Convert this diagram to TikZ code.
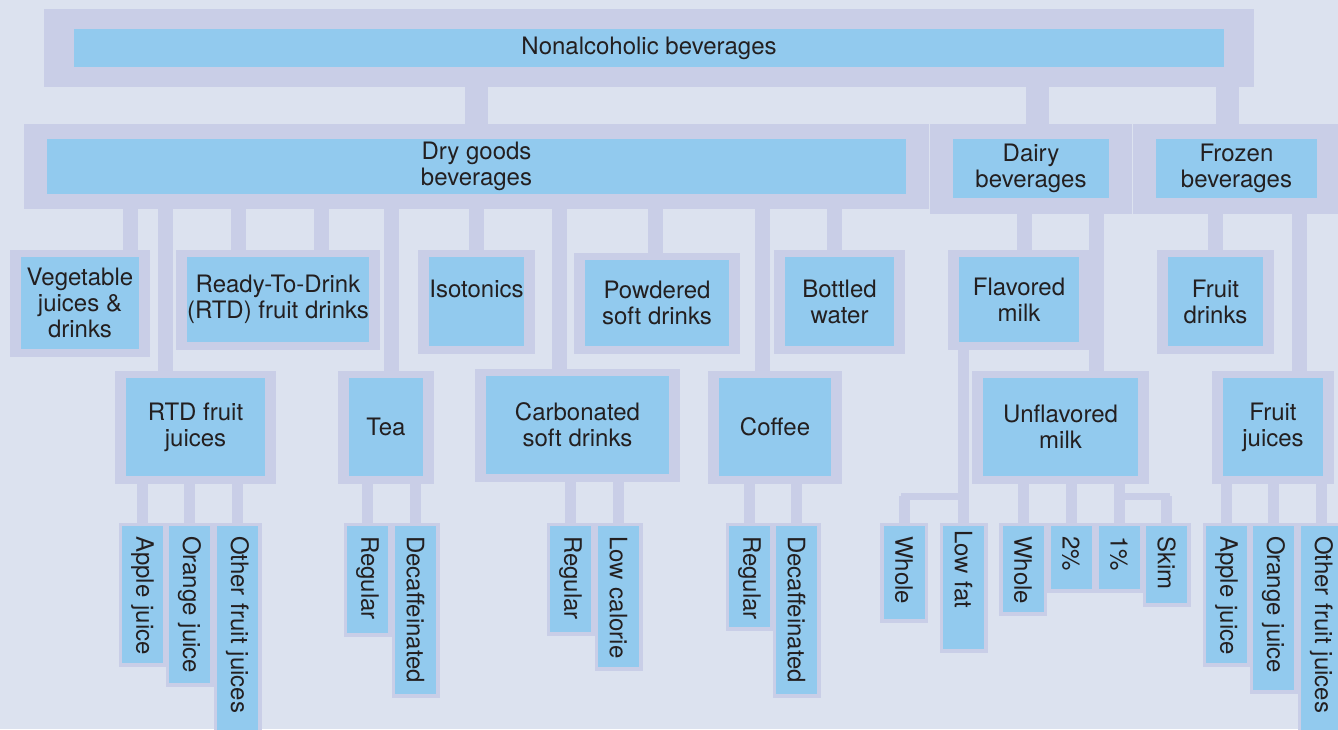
\documentclass[tikz,border=0pt]{standalone}
\usepackage{fontspec}
\setmainfont{TeX Gyre Heros}
\usetikzlibrary{fit}

\definecolor{pagebg}{RGB}{220,226,239}
\definecolor{lavender}{RGB}{201,206,231}
\definecolor{cellblue}{RGB}{146,202,238}
\definecolor{ink}{RGB}{35,31,32}

\pgfdeclarelayer{links}
\pgfsetlayers{links,main}
\hyphenpenalty=10000

\begin{document}
\begin{tikzpicture}[x=1pt, y=-1pt,
  cell/.style={fill=cellblue, text=ink, inner sep=0, outer sep=0, align=center, font=\fontsize{24}{26}\selectfont},
  leaf/.style={cell, rotate=-90, minimum height=41, inner xsep=10, text width=#1pt, align=left},
  frame/.style={fill=lavender, inner sep=0, outer sep=0},
  trunk/.style={draw=lavender, line width=23},
  bar/.style={draw=lavender, line width=15},
  thinbar/.style={draw=lavender, line width=11},
  twig/.style={draw=lavender, line width=7, line cap=rect}
]
\useasboundingbox (0,0) rectangle (1338,729);

% top and first level
\node[cell, minimum width=1150, minimum height=38] (top) at (649,48) {Nonalcoholic beverages};
\node[cell, minimum width=859, minimum height=55] (dry) at (476.5,166.5) {Dry goods\\beverages};
\node[cell, minimum width=156, minimum height=59] (dairy) at (1031,168.5) {Dairy\\beverages};
\node[cell, minimum width=161, minimum height=59] (frozen) at (1236.5,168.5) {Frozen\\beverages};

% second level
\node[cell, minimum width=118, minimum height=92] (veg) at (80,303) {Vegetable\\juices \&\\drinks};
\node[cell, minimum width=178, minimum height=85] (rtdd) at (278,299.5) {Ready-To-Drink\\(RTD) fruit drinks};
\node[cell, minimum width=93, minimum height=89] (iso) at (476.5,301.5) {Isotonics\\ \mbox{}};
\node[cell, minimum width=144, minimum height=86] (powd) at (657,303) {Powdered\\soft drinks};
\node[cell, minimum width=109, minimum height=89] (bottled) at (839.5,301.5) {Bottled\\water};
\node[cell, minimum width=139, minimum height=98] (rtdj) at (195.5,427) {RTD fruit\\juices};
\node[cell, minimum width=74, minimum height=98] (tea) at (386,427) {Tea};
\node[cell, minimum width=183, minimum height=98] (carb) at (577.5,425) {Carbonated\\soft drinks};
\node[cell, minimum width=112, minimum height=98] (coffee) at (775,427) {Coffee};
\node[cell, minimum width=120, minimum height=85] (flav) at (1019,299.5) {Flavored\\milk};
\node[cell, minimum width=155, minimum height=98] (unfl) at (1060.5,427) {Unflavored\\milk};
\node[cell, minimum width=95, minimum height=89] (fdrinks) at (1215.5,301.5) {Fruit\\drinks};
\node[cell, minimum width=100, minimum height=98] (fjuices) at (1273,427) {Fruit\\juices};

% leaves
\node[leaf=117] (apple1) at (142.5,594.5) {Apple~juice};
\node[leaf=137] (orange1) at (189.5,604.5) {Orange~juice};
\node[leaf=194] (other1) at (237.5,633) {Other~fruit~juices};
\node[leaf=87] (teareg) at (367.5,579.5) {Regular};
\node[leaf=148] (teadec) at (415.5,610) {Decaffeinated};
\node[leaf=86] (carbreg) at (570.5,579) {Regular};
\node[leaf=121] (carblow) at (618.5,596.5) {Low~calorie};
\node[leaf=81] (cofreg) at (749.5,576.5) {Regular};
\node[leaf=148] (cofdec) at (796.5,610) {Decaffeinated};
\node[leaf=73] (whole1) at (904,572.5) {Whole};
\node[leaf=115, inner xsep=4] (lowfat) at (963.5,587.5) {Low~fat};
\node[leaf=66] (whole2) at (1023,569) {Whole};
\node[leaf=43] (two) at (1071,557.5) {2\%};
\node[leaf=43] (one) at (1119,557.5) {1\%};
\node[leaf=57] (skim) at (1166.5,564.5) {Skim};
\node[leaf=117] (apple2) at (1226.5,594.5) {Apple~juice};
\node[leaf=144] (orange2) at (1273.5,608) {Orange~juice};
\node[leaf=194] (other2) at (1321.5,633) {Other~fruit~juices};

\begin{pgfonlayer}{links}
  \fill[pagebg] (0,0) rectangle (1338,729);
  % frames
  \node[frame, fit=(top), inner xsep=30, inner ysep=20] (top-f) {};
  \node[frame, fit=(dry), inner xsep=23, inner ysep=15] (dry-f) {};
  \node[frame, fit=(dairy), inner xsep=23, inner ysep=15.5] (dairy-f) {};
  \node[frame, fit=(frozen), inner xsep=23, inner ysep=15.5] (frozen-f) {};
  \foreach \n in {veg, rtdd, iso, powd, bottled, rtdj, tea, carb, coffee, flav, unfl, fdrinks, fjuices}
    \node[frame, fit=(\n), inner xsep=11, inner ysep=7.5] (\n-f) {};
  \foreach \n in {apple1, orange1, other1, teareg, teadec, carbreg, carblow, cofreg, cofdec,
                  whole1, lowfat, whole2, two, one, skim, apple2, orange2, other2}
    \node[frame, fit=(\n), inner sep=3.5] (\n-f) {};

  % connectors
  \draw[trunk] (dry-f.north |- top-f.south) -- (dry-f.north);
  \foreach \x/\n in {1037/dairy, 1227.5/frozen}
    \draw[trunk] (\x,0 |- top-f.south) -- (\x,0 |- \n-f.north);
  \foreach \x/\n in {130.5/veg, 165.5/rtdj, 238.5/rtdd, 321.5/rtdd, 391.5/tea, 476.5/iso,
                     559.5/carb, 655.5/powd, 762.5/coffee, 834.5/bottled}
    \draw[bar] (\x,0 |- dry-f.south) -- (\x,0 |- \n-f.north);
  \foreach \x/\n in {1024.5/flav, 1096.5/unfl}
    \draw[bar] (\x,0 |- dairy-f.south) -- (\x,0 |- \n-f.north);
  \foreach \x/\n in {1215.5/fdrinks, 1299.5/fjuices}
    \draw[bar] (\x,0 |- frozen-f.south) -- (\x,0 |- \n-f.north);
  \foreach \p/\n in {rtdj/apple1, rtdj/orange1, rtdj/other1, tea/teareg, tea/teadec,
                     carb/carbreg, carb/carblow, coffee/cofreg, coffee/cofdec, flav/lowfat,
                     unfl/whole2, unfl/two, unfl/one, fjuices/apple2, fjuices/orange2, fjuices/other2}
    \draw[thinbar] (\n-f.north |- \p-f.south) -- (\n-f.north);
  \coordinate (flavsplit) at ([yshift=26.5pt]lowfat-f.north);
  \coordinate (unflsplit) at ([yshift=26.5pt]one-f.north);
  \draw[thinbar] (whole1-f.north |- flavsplit) -- (whole1-f.north);
  \draw[twig] (flavsplit) -- (whole1-f.north |- flavsplit);
  \draw[thinbar] (skim-f.north |- unflsplit) -- (skim-f.north);
  \draw[twig] (unflsplit) -- (skim-f.north |- unflsplit);
\end{pgfonlayer}
\end{tikzpicture}
\end{document}
